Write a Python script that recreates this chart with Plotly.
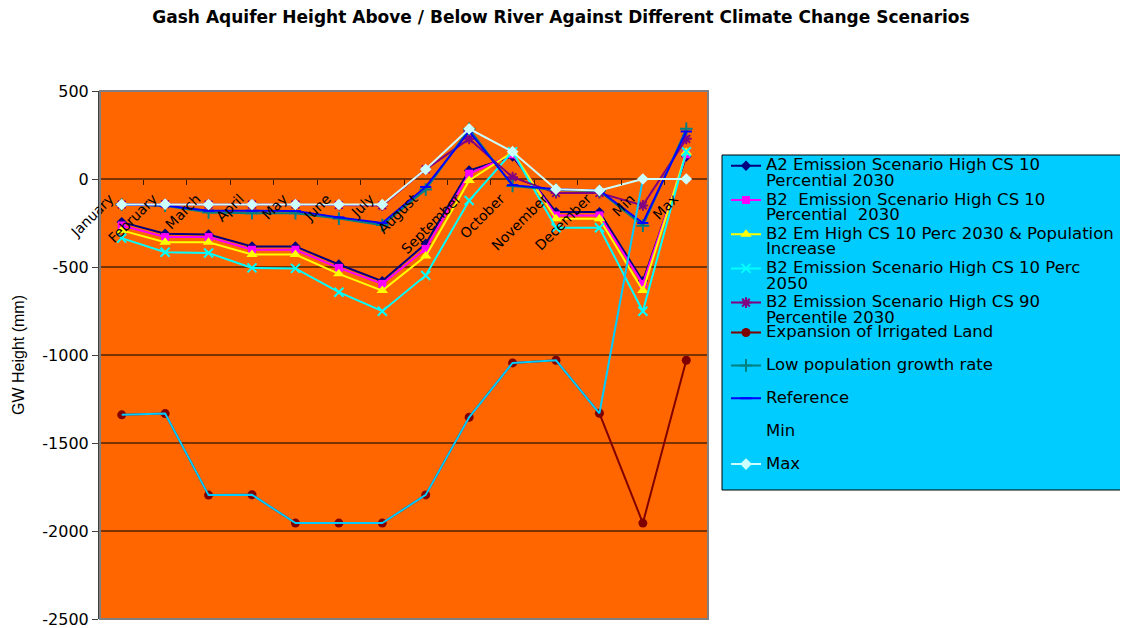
import plotly.graph_objects as go

MONTHS = ["January", "February", "March", "April", "May", "June", "July", "August",
          "September", "October", "November", "December", "Min", "Max"]

a2_10_2030 = [-245, -311, -315, -383, -383, -486, -580, -368, 48, 128, -188, -188, -580, 128]
b2_10_2030 = [-264, -330, -330, -402, -402, -505, -596, -397, 30, 140, -207, -207, -596, 140]
b2_10_pop = [-292, -359, -360, -429, -429, -539, -634, -438, -8, 152, -226, -226, -634, 152]
b2_10_2050 = [-336, -416, -420, -505, -508, -643, -751, -548, -122, 155, -277, -277, -751, 155]
b2_90_2030 = [-145, -143, -145, -145, -145, -148, -150, 55, 228, 10, -80, -80, -150, 228]
irrigated = [-1340, -1333, -1796, -1794, -1955, -1955, -1955, -1795, -1354, -1045, -1030, -1331, -1955, -1030]
low_pop = [-145, -152, -190, -195, -195, -225, -262, -60, 285, -40, -62, -68, -265, 285]
reference = [-145, -150, -180, -180, -182, -218, -250, -45, 270, -35, -58, -65, -250, 270]
min_vals = [-1340, -1333, -1796, -1794, -1955, -1955, -1955, -1795, -1354, -1045, -1030, -1331, 0, 0]
max_vals = [-145, -143, -145, -145, -145, -145, -145, 55, 285, 155, -58, -65, 0, 0]

Y_TICKS = [500, 0, -500, -1000, -1500, -2000, -2500]
Y_LABELS = ["500", "0", "-500", "-1000", "-1500", "-2000", "-2500"]

WIDE = "DejaVu Sans, Verdana, sans-serif"
ARIAL = "Liberation Sans, Arial, sans-serif"

# the page body adds an 8px offset, so figure coords = reference coords - 8
OFF = 8
PL, PT, PR, PB = 100 - OFF, 91 - OFF, 708 - OFF, 619 - OFF
PW, PH = PR - PL, PB - PT


def px_x(x):
    return (x - OFF - PL) / PW


def px_y(y):
    return (PB - (y - OFF)) / PH


def lab(*lines):
    parts = [f"<span style='font-size:16.5px'>{ln}</span>" for ln in lines]
    if len(parts) == 1:
        parts.append("&nbsp;")
    return "<br>".join(parts)


series = [
    ("A2 Emission Scenario High CS 10|Percential 2030", a2_10_2030, "#000080", "diamond", 8),
    ("B2  Emission Scenario High CS 10|Percential  2030", b2_10_2030, "#FF00FF", "square", 8),
    ("B2 Em High CS 10 Perc 2030 & Population|Increase", b2_10_pop, "#FFFF00", "triangle-up", 10),
    ("B2 Emission Scenario High CS 10 Perc|2050", b2_10_2050, "#00FFFF", "x-thin-open", 9),
    ("B2 Emission Scenario High CS 90|Percentile 2030", b2_90_2030, "#800080", "asterisk-open", 9),
    ("Expansion of Irrigated Land", irrigated, "#800000", "circle", 9),
    ("Low population growth rate", low_pop, "#008080", "cross-thin-open", 9),
    ("Reference", reference, "#0000FF", "line-ew-open", 8),
    ("Min", min_vals, "#00CCFF", None, 0),
    ("Max", max_vals, "#CCFFFF", "diamond", 9),
]

fig = go.Figure()
for name, vals, col, sym, size in series:
    lines = name.split("|")
    which = "legend" if len(lines) == 2 else "legend2"
    if sym is None:
        fig.add_trace(go.Scatter(x=MONTHS, y=vals, name=lab(*lines), legend=which,
                                 mode="lines", line=dict(color=col, width=2)))
    else:
        open_sym = sym.endswith("open")
        fig.add_trace(go.Scatter(
            x=MONTHS, y=vals, name=lab(*lines), legend=which, mode="lines+markers",
            line=dict(color=col, width=2),
            marker=dict(symbol=sym, size=size, color=col,
                        line=dict(color=col, width=2 if open_sym else 0)),
        ))

leg_common = dict(
    x=px_x(726), xanchor="left", yanchor="top",
    bgcolor="rgba(0,0,0,0)", borderwidth=0,
    valign="top", tracegroupgap=0,
)

fig.update_layout(
    width=1128,
    height=628,
    paper_bgcolor="white",
    plot_bgcolor="#FF6600",
    font=dict(family=WIDE, size=16, color="black"),
    margin=dict(l=PL, r=1128 - PR, t=PT, b=628 - PB, autoexpand=False),
    title=dict(
        text="<b>Gash Aquifer Height Above / Below River Against Different Climate Change Scenarios</b>",
        x=(561 - OFF) / 1128, xref="container", xanchor="center",
        y=1 - (17 - OFF) / 628, yref="container", yanchor="middle",
        font=dict(family=WIDE, size=17, color="black"),
    ),
    xaxis=dict(
        type="category",
        categoryorder="array",
        categoryarray=MONTHS,
        range=[-0.5, 13.5],
        anchor="free",
        position=2500 / 3000,
        showgrid=False,
        showline=False,
        tickson="boundaries",
        ticks="outside",
        ticklen=5,
        tickwidth=1,
        tickcolor="#3a1a00",
        tickangle=-45,
        ticklabelstandoff=8,
        ticklabelshift=-12,
        tickfont=dict(family=WIDE, size=14, color="black"),
        layer="above traces",
    ),
    yaxis=dict(
        range=[-2500, 500],
        tickvals=Y_TICKS,
        ticktext=Y_LABELS,
        showgrid=True,
        gridcolor="#7A3300",
        gridwidth=2,
        zeroline=False,
        showline=True,
        linecolor="#404040",
        linewidth=2,
        ticks="outside",
        ticklen=6,
        tickcolor="#404040",
        tickfont=dict(family=WIDE, size=16, color="black"),
        title=dict(text="GW Height (mm)", font=dict(family=ARIAL, size=16), standoff=14),
    ),
    legend=dict(y=px_y(151.5), font=dict(family=WIDE, size=12, color="black"), **leg_common),
    legend2=dict(y=px_y(318.5), font=dict(family=WIDE, size=11.5, color="black"), **leg_common),
    showlegend=True,
    shapes=[
        dict(type="rect", xref="paper", yref="paper", x0=0, y0=0, x1=1, y1=1,
             line=dict(color="#808080", width=2), layer="above"),
        dict(type="rect", xref="paper", yref="paper",
             x0=px_x(722), x1=px_x(1160), y0=px_y(490), y1=px_y(155),
             fillcolor="#00CCFF", line=dict(color="black", width=1), layer="below"),
    ],
)

fig.write_html("out.html")
